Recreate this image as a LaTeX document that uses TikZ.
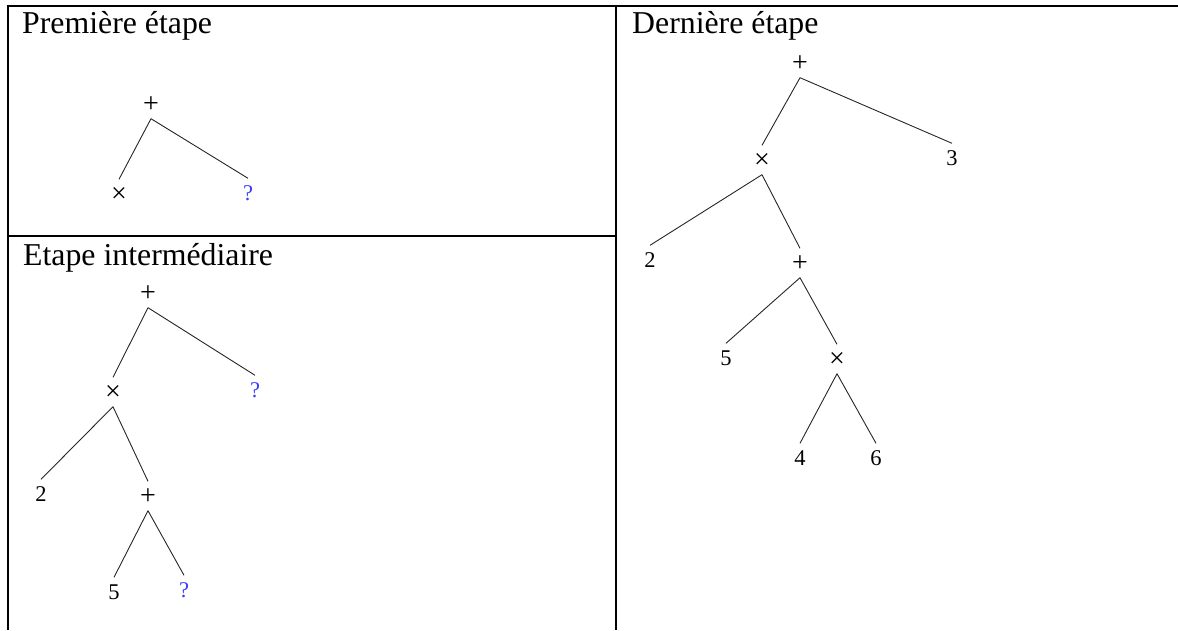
\documentclass[tikz,border=0pt]{standalone}
\usepackage{fontspec}
\setmainfont{Liberation Serif}
\definecolor{holeblue}{RGB}{60,60,255}
\tikzset{
  tnode/.style={inner sep=0pt,minimum height=29pt,text height=14pt,text depth=0pt,font=\fontsize{22.5}{26}\selectfont},
  opnode/.style={tnode,text height=17pt,font=\fontsize{28}{32}\selectfont},
  hole/.style={tnode,text=holeblue},
  edge/.style={draw=black!85,line width=0.9pt},
  title/.style={anchor=base west,inner sep=0pt,font=\fontsize{31.8}{38}\selectfont},
  tabline/.style={line width=2pt}
}
\begin{document}
\begin{tikzpicture}[x=1pt,y=-1pt]
\useasboundingbox (0,0) rectangle (1178,630);
\draw[tabline] (8,630) -- (8,6) -- (1178,6);
\draw[tabline] (616,6) -- (616,630);
\draw[tabline] (8,236) -- (616,236);
\node[title] (t1) at (22,33) {Première étape};
\node[title] (t2) at (23,265) {Etape intermédiaire};
\node[title] (t3) at (632,33) {Dernière étape};
\node[opnode] (a0) at (151,104) {+};
\node[opnode] (a1) at (119,194) {×};
\node[hole] (a2) at (248,193) {?};
\draw[edge] (a0.south) -- (a1.north);
\draw[edge] (a0.south) -- (a2.north);
\node[opnode] (b0) at (148,293) {+};
\node[opnode] (b1) at (113,392) {×};
\node[hole] (b2) at (255,390) {?};
\node[tnode] (b3) at (41,494) {2};
\node[opnode] (b4) at (148,496) {+};
\node[tnode] (b5) at (114,592) {5};
\node[hole] (b6) at (184,590) {?};
\draw[edge] (b0.south) -- (b1.north);
\draw[edge] (b0.south) -- (b2.north);
\draw[edge] (b1.south) -- (b3.north);
\draw[edge] (b1.south) -- (b4.north);
\draw[edge] (b4.south) -- (b5.north);
\draw[edge] (b4.south) -- (b6.north);
\node[opnode] (c0) at (800,63) {+};
\node[opnode] (c1) at (762,160) {×};
\node[tnode] (c2) at (952,158) {3};
\node[tnode] (c3) at (650,260) {2};
\node[opnode] (c4) at (800,263) {+};
\node[tnode] (c5) at (726,358) {5};
\node[opnode] (c6) at (837,359) {×};
\node[tnode] (c7) at (800,458) {4};
\node[tnode] (c8) at (876,458) {6};
\draw[edge] (c0.south) -- (c1.north);
\draw[edge] (c0.south) -- (c2.north);
\draw[edge] (c1.south) -- (c3.north);
\draw[edge] (c1.south) -- (c4.north);
\draw[edge] (c4.south) -- (c5.north);
\draw[edge] (c4.south) -- (c6.north);
\draw[edge] (c6.south) -- (c7.north);
\draw[edge] (c6.south) -- (c8.north);
\end{tikzpicture}
\end{document}
